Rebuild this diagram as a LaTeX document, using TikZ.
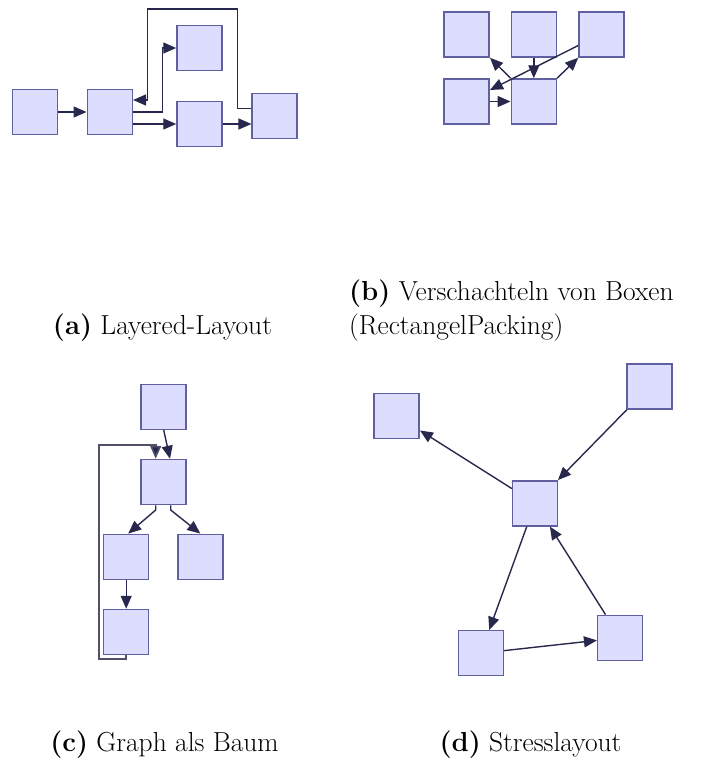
\documentclass[tikz,border=0pt]{standalone}
\usetikzlibrary{arrows.meta,calc}
\definecolor{boxfill}{RGB}{221,221,255}
\definecolor{boxline}{RGB}{96,96,160}
\definecolor{edgecol}{RGB}{40,40,78}
\definecolor{loopcol}{RGB}{80,80,105}
\begin{document}
\begin{tikzpicture}[x=1pt,y=-1pt,
  box/.style={draw=boxline,fill=boxfill,line width=1.5pt,minimum width=45pt,minimum height=45pt,inner sep=0pt},
  edge/.style={draw=edgecol,line width=1.4pt,-{Triangle[length=13pt,width=11pt]}},
  loopedge/.style={draw=loopcol,line width=1.6pt,-{Triangle[length=13pt,width=11pt,fill=edgecol]}},
  captxt/.style={inner sep=0pt,font=\fontsize{27.5}{34}\selectfont}
]
\useasboundingbox (0,0) rectangle (709,763);

% (a) Layered layout
\node[box] (A) at (34.8,112) {};
\node[box] (B) at (109.8,112) {};
\node[box] (C) at (199.5,48) {};
\node[box] (D) at (199.5,124) {};
\node[box] (E) at (274.7,115.8) {};
\draw[edge] (A.east) -- (B.west);
\draw[edge] ([yshift=-12pt]B.east) -- (D.west);
\draw[edge] (D.east) -- (E.west |- D.east);
\coordinate (bc1) at (162.3,112);
\coordinate (bc2) at (162.3,48);
\draw[edge] (B.east) -- (bc1) -- (bc2) -- (C.west);
\coordinate (eb1) at (237.5,108.3);
\coordinate (eb2) at (237.5,9);
\coordinate (eb3) at (147.3,9);
\coordinate (eb4) at (147.3,100);
\draw[edge] (E.west |- eb1) -- (eb1) -- (eb2) -- (eb3) -- (eb4) -- (B.east |- eb4);

% (b) Rectangle packing
\node[box] (b1) at (466.7,34.5) {};
\node[box] (b2) at (533.8,34.5) {};
\node[box] (b3) at (601.5,34.5) {};
\node[box] (b4) at (466.7,101.5) {};
\node[box] (b5) at (533.8,101.5) {};
\draw[edge] (b5.north west) -- (b1.south east);
\draw[edge] (b2.south) -- (b5.north);
\draw[edge] ([yshift=-11pt]b3.west) -- ([yshift=11.5pt]b4.east);
\draw[edge] (b5.north east) -- (b3.south west);
\draw[edge] (b4.east) -- (b5.west);

% (c) Tree
\node[box] (c1) at (163.7,406.8) {};
\node[box] (c2) at (163.7,482) {};
\node[box] (c3) at (126.2,556.8) {};
\node[box] (c4) at (200.3,556.8) {};
\node[box] (c5) at (126.2,632) {};
\draw[edge] (c1.south) -- ([xshift=6.3pt]c2.north);
\coordinate (l1) at (126.2,659);
\coordinate (l2) at (99,659);
\coordinate (l3) at (99,445);
\coordinate (l4) at (155.7,445);
\draw[loopedge] (c5.south) -- (l1) -- (l2) -- (l3) -- (l4) -- (c2.north -| l4);
\coordinate (m1) at (155.7,510);
\coordinate (m2) at (170.7,510);
\draw[edge] (c2.south -| m1) -- (m1) -- ([xshift=2pt]c3.north);
\draw[edge] (c2.south -| m2) -- (m2) -- (c4.north);
\draw[edge] (c3.south) -- (c5.north);

% (d) Stress layout
\node[box] (dTL) at (396.7,415.8) {};
\node[box] (dTR) at (649.5,386.5) {};
\node[box] (dC) at (535.2,503.3) {};
\node[box] (dBL) at (480.8,653.2) {};
\node[box] (dBR) at (620.2,637.8) {};
\draw[edge] (dC) -- (dTL);
\draw[edge] (dTR) -- (dC);
\draw[edge] (dC) -- (dBL);
\draw[edge] (dBL) -- (dBR);
\draw[edge] (dBR) -- (dC);

% captions
\node[captxt,anchor=base] (capa) at (162.5,334) {\textbf{(a)} Layered-Layout};
\node[captxt,anchor=base west,align=left] (capb) at (349,334) {\textbf{(b)} Verschachteln von Boxen\\(RectangelPacking)};
\node[captxt,anchor=base] (capc) at (164.5,751.5) {\textbf{(c)} Graph als Baum};
\node[captxt,anchor=base] (capd) at (530.5,751.5) {\textbf{(d)} Stresslayout};
\end{tikzpicture}
\end{document}
